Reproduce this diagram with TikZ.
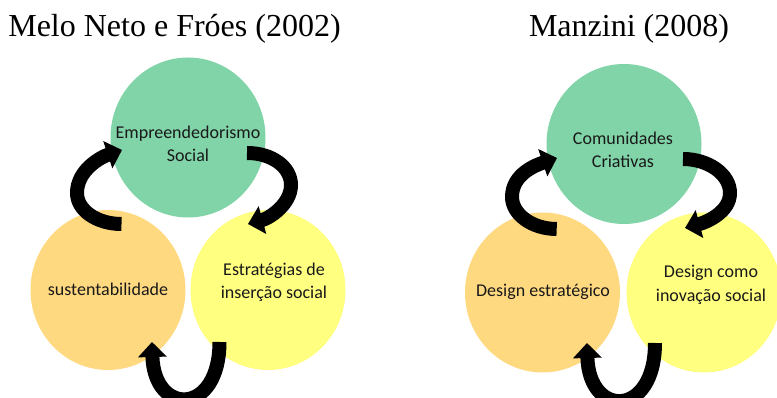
\documentclass[tikz,border=0pt]{standalone}
\usepackage{fontspec}
\setmainfont{Liberation Serif}
\newfontfamily\carlfont{Carlito}
\usetikzlibrary{arrows.meta,shapes.geometric}
\definecolor{cgreen}{RGB}{128,212,168}
\definecolor{corange}{RGB}{255,217,128}
\definecolor{cyellow}{RGB}{255,255,128}
\definecolor{ctext}{RGB}{25,25,25}
\begin{document}
\begin{tikzpicture}[x=1pt,y=1pt,
  bubble/.style={ellipse, minimum width=155pt, minimum height=160pt, inner sep=0pt, draw=none},
  lbl/.style={font=\carlfont\fontsize{18}{23.5}\selectfont, text=ctext, align=center, inner sep=0pt},
  ttl/.style={font=\fontsize{32}{38}\selectfont, anchor=base, inner sep=0pt},
  cyc/.style={line width=14pt, line cap=butt, -{Triangle[width=28pt,length=15pt]}, black}]
\useasboundingbox (0,0) rectangle (777,398);
\clip (0,0) rectangle (777,398);
% titles
\node[ttl] (t1) at (174.5,361) {Melo Neto e Fróes (2002)};
\node[ttl] (t2) at (629,361) {Manzini (2008)};
% left diagram
\node[bubble, fill=cgreen] (g1) at (188,260.5) {};
\node[bubble, fill=corange] (o1) at (108,108) {};
\node[bubble, fill=cyellow] (y1) at (268,108) {};
\node[lbl] (e1) at (188,254) {Empreendedorismo\\Social};
\node[lbl] (s1) at (108,109) {sustentabilidade};
\node[lbl] (x1) at (274,115.5) {Estratégias de\\inserção social};
% right diagram
\node[bubble, fill=cgreen] (g2) at (624,254) {};
\node[bubble, fill=corange] (o2) at (542.5,105.5) {};
\node[bubble, fill=cyellow] (y2) at (704,105.5) {};
\node[lbl] (e2) at (623,248) {Comunidades\\Criativas};
\node[lbl] (s2) at (543,106) {Design estratégico};
\node[lbl] (x2) at (711,113) {Design como\\inovação social};
% arrow ends
\coordinate (a1s) at (121.5,174); \coordinate (a1m) at (77,205);  \coordinate (a1e) at (122,248);
\coordinate (a2s) at (247,245);   \coordinate (a2m) at (291,213); \coordinate (a2e) at (248,174);
\coordinate (a3s) at (219.5,56);  \coordinate (a3e) at (152,56);
\coordinate (b1s) at (556.7,169); \coordinate (b1m) at (512,201); \coordinate (b1e) at (557,240);
\coordinate (b2s) at (683,239);   \coordinate (b2m) at (730,205); \coordinate (b2e) at (685,170);
\coordinate (b3s) at (655,55);    \coordinate (b3e) at (587,55);
% arrows
\draw[cyc] (a1s) .. controls +(-25,0) and +(0,-17) .. (a1m) .. controls +(0,23) and +(-21,-7) .. (a1e);
\draw[cyc] (a2s) .. controls +(25,0) and +(0,18) .. (a2m) .. controls +(0,-19) and +(22,6) .. (a2e);
\draw[cyc] (a3s) .. controls +(0,-74) and +(2,-74) .. (a3e);
\draw[cyc] (b1s) .. controls +(-25,0) and +(0,-17) .. (b1m) .. controls +(0,23) and +(-21,-7) .. (b1e);
\draw[cyc] (b2s) .. controls +(25,0) and +(0,19) .. (b2m) .. controls +(0,-19) and +(22,6) .. (b2e);
\draw[cyc] (b3s) .. controls +(0,-75) and +(2,-75) .. (b3e);
\end{tikzpicture}
\end{document}
